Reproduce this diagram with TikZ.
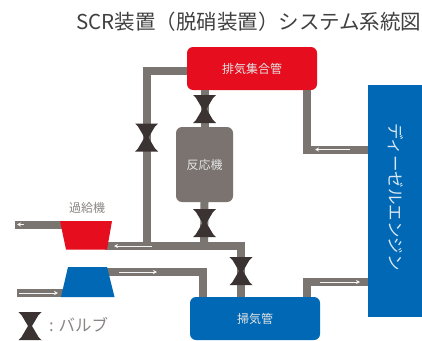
\documentclass[tikz,border=0pt]{standalone}
\usepackage{fontspec}
\setmainfont{Noto Sans CJK JP}
\usetikzlibrary{arrows.meta,calc}
\definecolor{pipec}{HTML}{7B7571}
\definecolor{valvec}{HTML}{3B3331}
\definecolor{redc}{HTML}{E60E1E}
\definecolor{bluec}{HTML}{0068B5}
\definecolor{grayc}{HTML}{7A736F}
\definecolor{labelc}{HTML}{8A8583}
\tikzset{
 pipe/.style={draw=pipec,line width=8pt,line join=miter},
 flow/.style={draw=white!92!pipec,line width=1pt,-{Stealth[length=4pt,width=4pt]}},
 box/.style={rounded corners=6pt,inner sep=0pt,text=white!80!gray},
 tag/.style={font=\fontsize{12}{13}\selectfont},
 valveshape/.style={fill=valvec,draw=none},
}
\newcommand{\valve}[3]{% name, x, y
  \coordinate (#1) at (#2,#3);
  \fill[valveshape] ($(#1)+(-11.5,-14)$) -- ($(#1)+(11.5,-14)$) -- ($(#1)+(8.5,-11)$) -- ($(#1)+(2,0)$) -- ($(#1)+(8.5,11)$) -- ($(#1)+(11.5,14)$) -- ($(#1)+(-11.5,14)$) -- ($(#1)+(-8.5,11)$) -- ($(#1)+(-2,0)$) -- ($(#1)+(-8.5,-11)$) -- cycle;
}
\begin{document}
\begin{tikzpicture}[x=1pt,y=-1pt]
\useasboundingbox (0,0) rectangle (422,340);
\fill[white] (0,0) rectangle (422,340);
% junction and bend coordinates
\coordinate (bendA) at (146.5,71);
\coordinate (junA) at (146.5,246);
\coordinate (junB) at (204,246);
\coordinate (bendB) at (241,246);
\coordinate (bendC) at (307,149.5);
\coordinate (bendD) at (307,282);
\coordinate (bendE) at (203,272);
\coordinate (inL) at (15,224.5);
\coordinate (inR) at (17,293);
\coordinate (redOut) at (62,224.5);
\coordinate (blueIn) at (63,293);
\coordinate (redIn) at (105,246);
\coordinate (blueOut) at (105,272);
% boxes
\node[box,fill=redc,minimum width=130pt,minimum height=43pt,tag,anchor=center] (exh) at (252,68.5) {排気集合管};
\node[box,fill=grayc,minimum width=57pt,minimum height=75pt,tag] (reac) at (204.5,164.5) {反応機};
\node[box,fill=bluec,minimum width=130pt,minimum height=43pt,tag] (scav) at (255,318.5) {掃気管};
\node[inner sep=0pt,fill=bluec,minimum width=54pt,minimum height=232pt,rounded corners=0pt] (eng) at (395,200.5) {};
\node[rotate=-90,text=white!85!bluec,font=\fontsize{16.5}{17}\selectfont] (engl) at (396,197) {ディーゼルエンジン};
% pipes
\draw[pipe] (exh.west |- bendA) -- (bendA) -- (junA);
\draw[pipe] (redIn) -- (bendB) -- (bendB |- scav.north);
\draw[pipe] (exh.south -| bendC) -- (bendC) -- (eng.west |- bendC);
\draw[pipe] (scav.north -| bendD) -- (bendD) -- (eng.west |- bendD);
\draw[pipe] (blueOut) -- (bendE) -- (bendE |- scav.north);
\draw[pipe] (inL) -- (redOut);
\draw[pipe] (inR) -- (blueIn);
\draw[pipe] (exh.south -| reac.north) -- (reac.north);
\draw[pipe] (reac.south) -- (junB);
% turbo
\fill[redc] (60,221) -- (112,221) -- (107,249.5) -- (66,249.5) -- cycle;
\fill[bluec] (68,267) -- (107,267) -- (114.5,297) -- (61,297) -- cycle;
\node[text=labelc,tag] (turbo) at (87,208) {過給機};
% valves
\valve{v1}{204.5}{109}
\valve{v2}{204.5}{223}
\valve{v3}{146.5}{137.5}
\valve{v4}{241}{271}
\valve{v5}{30}{326}
\node[anchor=west,text=labelc,font=\fontsize{16.5}{17}\selectfont,inner sep=0pt] (leg) at (49,325) {: バルブ};
% flow arrows
\coordinate (f1a) at (152,246); \coordinate (f1b) at (114,246);
\coordinate (f2a) at (350,149.5); \coordinate (f2b) at (315,149.5);
\coordinate (f3a) at (320,282); \coordinate (f3b) at (360,282);
\coordinate (f4a) at (119,272); \coordinate (f4b) at (157,272);
\coordinate (f5a) at (24,224.5); \coordinate (f5b) at (17,224.5);
\coordinate (f6a) at (19,293); \coordinate (f6b) at (58,293);
\draw[flow] (f1a) -- (f1b);
\draw[flow] (f2a) -- (f2b);
\draw[flow] (f3a) -- (f3b);
\draw[flow] (f4a) -- (f4b);
\draw[flow] (f5a) -- (f5b);
\draw[flow] (f6a) -- (f6b);
% title
\node[anchor=west,inner sep=0pt,text=black!75,font=\fontsize{20.5}{22}\selectfont] (title) at (76,22) {SCR装置（脱硝装置）システム系統図};
\end{tikzpicture}
\end{document}
